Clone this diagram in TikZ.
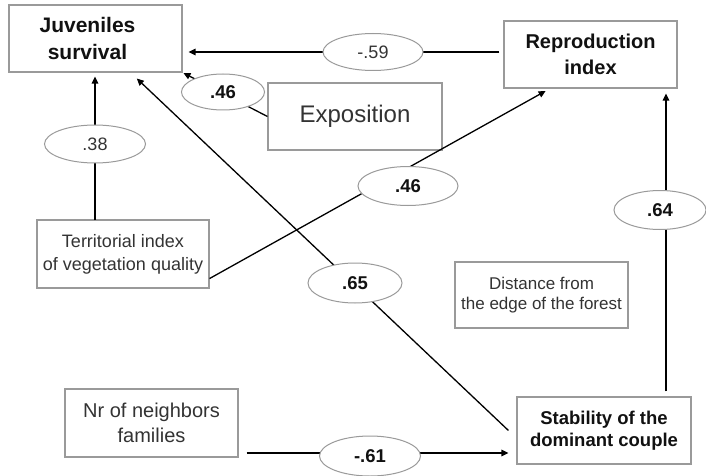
\documentclass[tikz,border=0pt]{standalone}
\usepackage{fontspec}
\setmainfont{Liberation Sans}
\usetikzlibrary{arrows.meta,shapes.geometric}

\definecolor{framegray}{HTML}{9A9A9A}
\definecolor{lighttext}{HTML}{333333}
\definecolor{headtext}{HTML}{111111}

\tikzset{
  varbox/.style 2 args={draw=framegray, line width=1.1pt, fill=white,
    minimum width=#1pt, minimum height=#2pt, inner sep=0pt, align=center},
  mainvar/.style={text=headtext, font=\bfseries\fontsize{20}{26.5}\selectfont},
  sidevar/.style={text=lighttext},
  coef/.style 2 args={ellipse, draw=framegray, line width=1pt, fill=white,
    minimum width=#1pt, minimum height=#2pt, inner sep=0pt},
  strong/.style={text=headtext, font=\bfseries\fontsize{18.5}{20}\selectfont},
  weak/.style={text=lighttext, font=\fontsize{18}{20}\selectfont},
  path/.style={line width=1.3pt, draw=black},
  arr/.style={path, -{Triangle[length=7pt,width=6.5pt]}}
}

\begin{document}
\begin{tikzpicture}[x=1pt, y=-1pt]
  \useasboundingbox[fill=white] (0,0) rectangle (706,476);

  % variables
  \node[varbox={173}{67}, mainvar, font=\bfseries\fontsize{21}{27}\selectfont] (juv) at (95.5,38.5)
    {Juveniles\hspace*{16pt}\\survival\hspace*{16pt}};
  \node[varbox={173}{67}, mainvar] (rep) at (590.5,54.5) {Reproduction\\index};
  \node[varbox={174}{67}, sidevar, font=\fontsize{24}{28}\selectfont] (expo) at (355,116.5) {Exposition};
  \node[varbox={172}{68}, sidevar, font=\fontsize{18}{22.7}\selectfont] (terr) at (123,254) {Territorial index\\of vegetation quality};
  \node[varbox={173}{66}, sidevar, font=\fontsize{17}{20.5}\selectfont] (dist) at (541.5,295) {Distance from\\the edge of the forest};
  \node[varbox={173}{68}, sidevar, font=\fontsize{20}{25}\selectfont] (nbr) at (151.5,423) {Nr of neighbors\\families};
  \node[varbox={174}{67}, mainvar, font=\bfseries\fontsize{18.5}{22.3}\selectfont] (stab) at (604,430.5) {Stability of the\\dominant couple};

  % path anchors
  \coordinate (juvtop) at ([xshift=35pt]juv.south);
  \coordinate (repout) at ([yshift=2.5pt]rep.west);
  \coordinate (nbrout) at ([xshift=8pt,yshift=-30pt]nbr.east);

  % paths
  \draw[arr, shorten <=4pt, shorten >=6pt] (repout) -- (repout -| juv.east);
  \draw[arr, shorten >=1pt] (expo.west) -- (juv.south east);
  \draw[arr, shorten >=4pt] (95,220) coordinate (terrtop) -- (terrtop |- juv.south);
  \draw[arr, shorten >=5pt] ([yshift=10pt]terr.south east) -- ([xshift=-40.5pt]rep.south);
  \draw[arr, shorten >=8.7pt] ([xshift=-8pt]stab.west) -- (juvtop);
  \draw[arr, shorten <=5pt, shorten >=5pt] ([xshift=62pt]stab.north) -- ([xshift=75.5pt]rep.south);
  \draw[arr, shorten >=8pt] (nbrout) -- (nbrout -| stab.west);

  % path coefficients
  \node[coef={100}{37}, weak] (c59) at (373,52) {-.59};
  \node[coef={83}{36}, strong] (c46a) at (223,92) {.46};
  \node[coef={101}{38}, weak] (c38) at (95,144) {.38};
  \node[coef={100}{39}, strong] (c46b) at (408,186) {.46};
  \node[coef={94}{40}, strong] (c65) at (355,283) {.65};
  \node[coef={92}{39}, strong] (c64) at (660,210) {.64};
  \node[coef={101}{40}, strong] (c61) at (370,456) {-.61};
\end{tikzpicture}
\end{document}
